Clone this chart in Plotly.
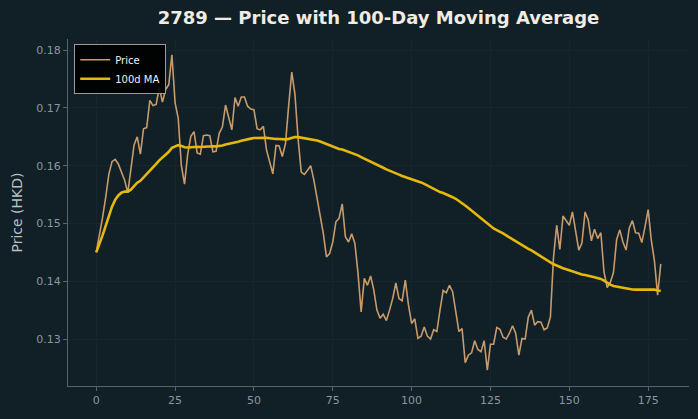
import numpy as np
import pandas as pd
import plotly.graph_objects as go

title_text = "2789 — Price with 100-Day Moving Average"
y_label = "Price (HKD)"
series_names = ["Price", "100d MA"]
ma_window = 100

price = [
    0.1450, 0.1478, 0.1510, 0.1545, 0.1585, 0.1607, 0.1611, 0.1603, 0.1590, 0.1575,
    0.1553, 0.1595, 0.1636, 0.1650, 0.1620, 0.1664, 0.1666, 0.1713, 0.1704, 0.1706,
    0.1735, 0.1710, 0.1732, 0.1740, 0.1792, 0.1709, 0.1682, 0.1600, 0.1568, 0.1620,
    0.1651, 0.1659, 0.1622, 0.1620, 0.1652, 0.1653, 0.1652, 0.1624, 0.1625, 0.1656,
    0.1667, 0.1705, 0.1685, 0.1662, 0.1718, 0.1703, 0.1719, 0.1719, 0.1703, 0.1698,
    0.1697, 0.1664, 0.1662, 0.1668, 0.1627, 0.1608, 0.1586, 0.1635, 0.1634, 0.1616,
    0.1638, 0.1703, 0.1762, 0.1724, 0.1647, 0.1589, 0.1585, 0.1592, 0.1600, 0.1575,
    0.1546, 0.1515, 0.1483, 0.1442, 0.1448, 0.1468, 0.1503, 0.1509, 0.1534, 0.1477,
    0.1468, 0.1482, 0.1466, 0.1414, 0.1347, 0.1405, 0.1393, 0.1409, 0.1385, 0.1350,
    0.1336, 0.1343, 0.1332, 0.1350, 0.1370, 0.1397, 0.1370, 0.1366, 0.1402, 0.1359,
    0.1327, 0.1335, 0.1301, 0.1305, 0.1321, 0.1305, 0.1300, 0.1316, 0.1313, 0.1350,
    0.1384, 0.1380, 0.1393, 0.1382, 0.1344, 0.1313, 0.1318, 0.1259, 0.1272, 0.1276,
    0.1297, 0.1282, 0.1278, 0.1297, 0.1246, 0.1291, 0.1291, 0.1320, 0.1317, 0.1303,
    0.1300, 0.1310, 0.1323, 0.1310, 0.1272, 0.1301, 0.1300, 0.1338, 0.1350, 0.1324,
    0.1330, 0.1329, 0.1316, 0.1319, 0.1338, 0.1442, 0.1497, 0.1455, 0.1513, 0.1506,
    0.1497, 0.1520, 0.1483, 0.1454, 0.1466, 0.1520, 0.1506, 0.1470, 0.1490, 0.1474,
    0.1484, 0.1416, 0.1389, 0.1398, 0.1415, 0.1472, 0.1489, 0.1468, 0.1454, 0.1492,
    0.1505, 0.1484, 0.1483, 0.1467, 0.1494, 0.1524, 0.1471, 0.1435, 0.1376, 0.1430,
]
day = list(range(len(price)))
x_ticks = [0, 25, 50, 75, 100, 125, 150, 175]
y_ticks = [0.13, 0.14, 0.15, 0.16, 0.17, 0.18]

ma = pd.Series(price).rolling(ma_window, min_periods=1).mean().tolist()

BG = "#111f26"
GRID = "#17262e"
SPINE = "#56636a"
TICKC = "#8c979c"

fig = go.Figure()
fig.add_trace(go.Scatter(x=day, y=price, mode="lines", name=series_names[0],
                         line=dict(color="#c79b6c", width=1.6)))
fig.add_trace(go.Scatter(x=day, y=ma, mode="lines", name=series_names[1],
                         line=dict(color="#e5b80b", width=2.6)))

n = len(price)
xpad = (n - 1) * 0.05
allv = price + ma
ymin, ymax = min(allv), max(allv)
ypad = (ymax - ymin) * 0.05

fig.update_layout(
    width=698, height=419,
    paper_bgcolor=BG, plot_bgcolor=BG,
    margin=dict(l=68, r=9, t=39, b=33),
    font=dict(family="DejaVu Sans", color=TICKC, size=11),
    title=dict(text="<b>" + title_text + "</b>", x=0.5423, xanchor="center",
               y=0.957, yanchor="middle",
               font=dict(family="DejaVu Sans", size=18, color="#f0ece4")),
    showlegend=True,
    legend=dict(x=0.01, y=0.985, xanchor="left", yanchor="top",
                bgcolor="rgba(0,0,0,0.9)", bordercolor="#9a9a9a", borderwidth=1,
                font=dict(family="DejaVu Sans", size=10, color="#f0f0f0"),
                itemwidth=30, tracegroupgap=0),
    xaxis=dict(range=[-xpad, n - 1 + xpad], tickvals=x_ticks,
               ticktext=[str(v) for v in x_ticks],
               showgrid=True, gridcolor=GRID, gridwidth=1, zeroline=False,
               showline=True, linecolor=SPINE, linewidth=1.2,
               ticks="outside", ticklen=4, tickcolor=SPINE,
               tickfont=dict(size=11, color=TICKC)),
    yaxis=dict(range=[ymin - ypad, ymax + ypad], tickvals=y_ticks,
               ticktext=["%.2f" % v for v in y_ticks],
               showgrid=True, gridcolor=GRID, gridwidth=1, zeroline=False,
               showline=True, linecolor=SPINE, linewidth=1.2,
               ticks="outside", ticklen=4, tickcolor=SPINE,
               tickfont=dict(size=11, color=TICKC),
               title=dict(text=y_label, standoff=10,
                          font=dict(family="DejaVu Sans", size=14, color="#b7c0c4"))),
)

fig.write_html("out.html")
